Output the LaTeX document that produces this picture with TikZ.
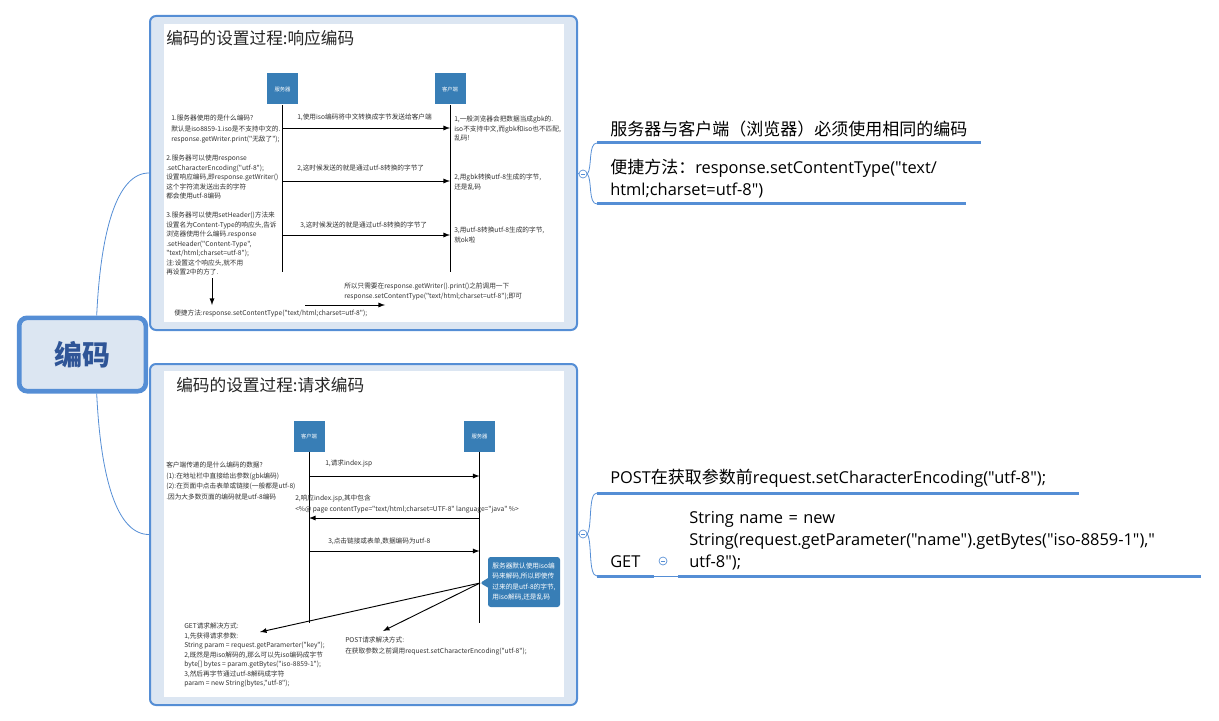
\documentclass[tikz,border=0pt]{standalone}
\usepackage{fontspec}
\setmainfont{Carlito}
\newfontfamily\cjk{Noto Sans CJK SC}
\newfontfamily\rfont{Open Sans}
\usetikzlibrary{shapes.callouts}

\definecolor{mmblue}{RGB}{85,142,213}
\definecolor{mmfill}{RGB}{220,230,242}
\definecolor{rootblue}{RGB}{47,85,151}
\definecolor{seqblue}{RGB}{56,126,182}
\definecolor{textgray}{RGB}{50,50,50}

\newcommand\tx{\cjk\fontsize{5}{7.1}\selectfont}
\newcommand\txw{\cjk\fontsize{5}{7.8}\selectfont}
\newcommand\rf{\rfont\fontsize{12.3}{16.8}\selectfont}
\newcommand\zh[1]{{\cjk\fontsize{12.75}{16.8}\selectfont #1}}

\tikzset{
  foldmark/.style={circle, draw=mmblue, fill=white, line width=0.5pt,
    minimum size=6pt, inner sep=0pt,
    path picture={\draw[mmblue, line width=0.5pt]
      ([xshift=-1.6pt]path picture bounding box.center) --
      ([xshift=1.6pt]path picture bounding box.center);}},
}

\begin{document}
\begin{tikzpicture}[x=0.75pt, y=-0.75pt, >=latex,
  rootbox/.style={draw=mmblue, line width=3.5pt, fill=mmfill, rounded corners=6pt,
    minimum width=95pt, minimum height=55pt, text=rootblue,
    font=\cjk\bfseries\fontsize{21}{21}\selectfont},
  shotbox/.style={draw=mmblue, line width=1.5pt, fill=mmfill, rounded corners=4.5pt,
    minimum width=320.25pt},
  branchline/.style={mmblue, line width=0.6pt},
  topicnode/.style={anchor=south west, inner xsep=9.75pt, inner ysep=4pt,
    align=left, font=\rf},
  uline/.style={mmblue, line width=2.25pt},
  actorbox/.style={fill=seqblue, minimum size=23.25pt, inner sep=0pt, text=white,
    font=\cjk\fontsize{4}{4}\selectfont},
  life/.style={line width=0.75pt},
  msg/.style={->, line width=0.7pt},
  tinytext/.style={font=\tx, align=left, anchor=north west, inner sep=0pt, text=textgray},
  msglabel/.style={font=\tx, anchor=west, inner sep=0pt, text=textgray},
  title/.style={font=\cjk\fontsize{12.5}{15}\selectfont, anchor=west, inner sep=0pt,
    text=black!85},
]
\useasboundingbox (0,0) rectangle (1219,720);

% central topic and the two screenshot topics
\node (root) [rootbox] at (82.5,354.5) {编码};
\node (resp) [shotbox, minimum height=235.5pt] at (363.5,173) {};
\node (req) [shotbox, minimum height=255.75pt] at (363.5,534.5) {};
\fill[white] (164,24) rectangle (564,322);
\fill[white] (164,371) rectangle (564,697);

\draw[branchline] (root.70) .. controls +(4,-85) and +(-32,0) .. (resp.west);
\draw[branchline] (root.-70) .. controls +(4,85) and +(-32,0) .. (req.west);

% ---- response encoding ----
\node[title] at (166,38) {编码的设置过程:响应编码};
\node (srv1) [actorbox] at (282.5,89) {服务器};
\node (cli1) [actorbox] at (450,89) {客户端};
\draw[life] (srv1.south) -- (srv1 |- 0,272);
\draw[life] (cli1.south) -- (cli1 |- 0,272);

\node[tinytext, font=\txw] at (171,115) {1.服务器使用的是什么编码?\\
  默认是iso8859-1.iso是不支持中文的.\\
  response.getWriter.print("无敌了");};
\node[tinytext] at (166,155) {2.服务器可以使用response\\
  .setCharacterEncoding("utf-8");\\
  设置响应编码,即response.getWriter()\\
  这个字符流发送出去的字符\\
  都会使用utf-8编码};
\node[tinytext] at (166,212) {3.服务器可以使用setHeader()方法来\\
  设置名为Content-Type的响应头,告诉\\
  浏览器使用什么编码.response\\
  .setHeader("Content-Type",\\
  "text/html;charset=utf-8");\\
  注:设置这个响应头,就不用\\
  再设置2中的方了.};

\node[msglabel] at (297,117) {1,使用iso编码将中文转换成字节发送给客户端};
\draw[msg] (srv1 |- 0,128) -- (cli1 |- 0,128);
\node[msglabel] at (297,168) {2,这时候发送的就是通过utf-8转换的字节了};
\draw[msg] (srv1 |- 0,181) -- (cli1 |- 0,181);
\node[msglabel] at (300,225) {3,这时候发送的就是通过utf-8转换的字节了};
\draw[msg] (srv1 |- 0,235) -- (cli1 |- 0,235);

\node[tinytext] at (454,116) {1,一般浏览器会把数据当成gbk的.\\
  iso不支持中文,而gbk和iso也不匹配,\\
  乱码!};
\node[tinytext] at (454,174) {2,用gbk转换utf-8生成的字节,\\还是乱码};
\node[tinytext] at (454,227) {3,用utf-8转换utf-8生成的字节,\\就ok啦};

\node (easy) [msglabel] at (174,313) {便捷方法:response.setContentType("text/html;charset=utf-8");};
\coordinate (down) at (212,278);
\draw[msg] (down) -- (down |- 0,305);
\coordinate (so1) at (305,305);
\coordinate (so2) at (385,305);
\draw[msg] (so1) -- (so2);
\node[tinytext] at (344,283) {所以只需要在response.getWriter().print()之前调用一下\\
  response.setContentType("text/html;charset=utf-8");即可};

% ---- request encoding ----
\node[title] at (176,385) {编码的设置过程:请求编码};
\node (cli2) [actorbox] at (309,436) {客户端};
\node (srv2) [actorbox] at (479.5,436) {服务器};
\draw[life] (cli2.south) -- (cli2 |- 0,623);
\draw[life] (srv2.south) -- (srv2 |- 0,623);

\node[tinytext, font=\txw] at (166,462) {客户端传递的是什么编码的数据?\\
  (1):在地址栏中直接给出参数(gbk编码)\\
  (2):在页面中点击表单或链接(一般都是utf-8)\\
  .因为大多数页面的编码就是utf-8编码};

\node[msglabel] at (325,464) {1,请求index.jsp};
\draw[msg] (cli2 |- 0,476) -- (srv2 |- 0,476);
\node[tinytext, font=\txw] at (295,495) {2,响应index.jsp,其中包含\\
  <\%@ page contentType="text/html;charset=UTF-8" language="java" \%>};
\draw[msg] (srv2 |- 0,518) -- (cli2 |- 0,518);
\node[msglabel] at (328,541) {3,点击链接或表单,数据编码为utf-8};
\draw[msg] (cli2 |- 0,551) -- (srv2 |- 0,551);

\coordinate (tip) at (480,583);
\node (bubble) [rectangle callout, callout absolute pointer={(tip)}, fill=seqblue,
  rounded corners=2pt, minimum width=54pt, minimum height=37.5pt, inner sep=2pt,
  text=white, font=\txw, align=left] at (524,582)
  {服务器默认使用iso编\\码来解码,所以即使传\\过来的是utf-8的字节,\\用iso解码,还是乱码};

\coordinate (gethead) at (260,632);
\coordinate (posthead) at (383,631);
\draw[msg] (tip) -- (gethead);
\draw[msg] (tip) -- (posthead);

\node[tinytext] at (184,623) {GET请求解决方式:\\
  1,先获得请求参数:\\
  String param = request.getParamerter("key");\\
  2,既然是用iso解码的,那么可以先iso编码成字节\\
  byte[] bytes = param.getBytes("iso-8859-1");\\
  3,然后再字节通过utf-8解码成字符\\
  param = new String(bytes,"utf-8");};
\node[tinytext, font=\txw] at (345,637) {POST请求解决方式:\\
  在获取参数之前调用request.setCharacterEncoding("utf-8");};

% ---- right side topics ----
\node (f1) [foldmark] at (583,174) {};
\draw[branchline] (resp.east) -- (f1.west);
\node (t1) [topicnode, text width=267.75pt] at (597,143)
  {\zh{服务器与客户端（浏览器）必须使用相同的编码}};
\node (t2) [topicnode, text width=256.5pt] at (597,204)
  {\zh{便捷方法：}response.setContentType("text/\\html;charset=utf-8")};
\draw[uline] (t1.south west) -- (t1.south east);
\draw[uline] (t2.south west) -- (t2.south east);
\draw[branchline] (f1.east) .. controls +(5,-6) and +(-9,0) .. (t1.south west);
\draw[branchline] (f1.east) .. controls +(5,6) and +(-9,0) .. (t2.south west);

\node (f2) [foldmark] at (583,534) {};
\draw[branchline] (req.east) -- (f2.west);
\node (p1) [topicnode, text width=341.25pt] at (597,493)
  {POST\zh{在获取参数前}request.setCharacterEncoding("utf-8");};
\node (g1) [topicnode, text width=22.5pt] at (597,576) {\vphantom{()}GET};
\node (g2) [topicnode, inner xsep=8.25pt, text width=375pt] at (678,576)
  {String name = new\\String(request.getParameter("name").getBytes("iso-8859-1"),"\\utf-8");};
\draw[uline] (p1.south west) -- (p1.south east);
\draw[uline] (g1.south west) -- (g1.south east);
\draw[uline] (g2.south west) -- (g2.south east);
\draw[branchline] (g1.south east) -- (g2.south west);
\node (f3) [foldmark] at (663,561) {};
\draw[branchline] (f2.east) .. controls +(5,-8) and +(-9,0) .. (p1.south west);
\draw[branchline] (f2.east) .. controls +(5,8) and +(-9,0) .. (g1.south west);
\end{tikzpicture}
\end{document}
